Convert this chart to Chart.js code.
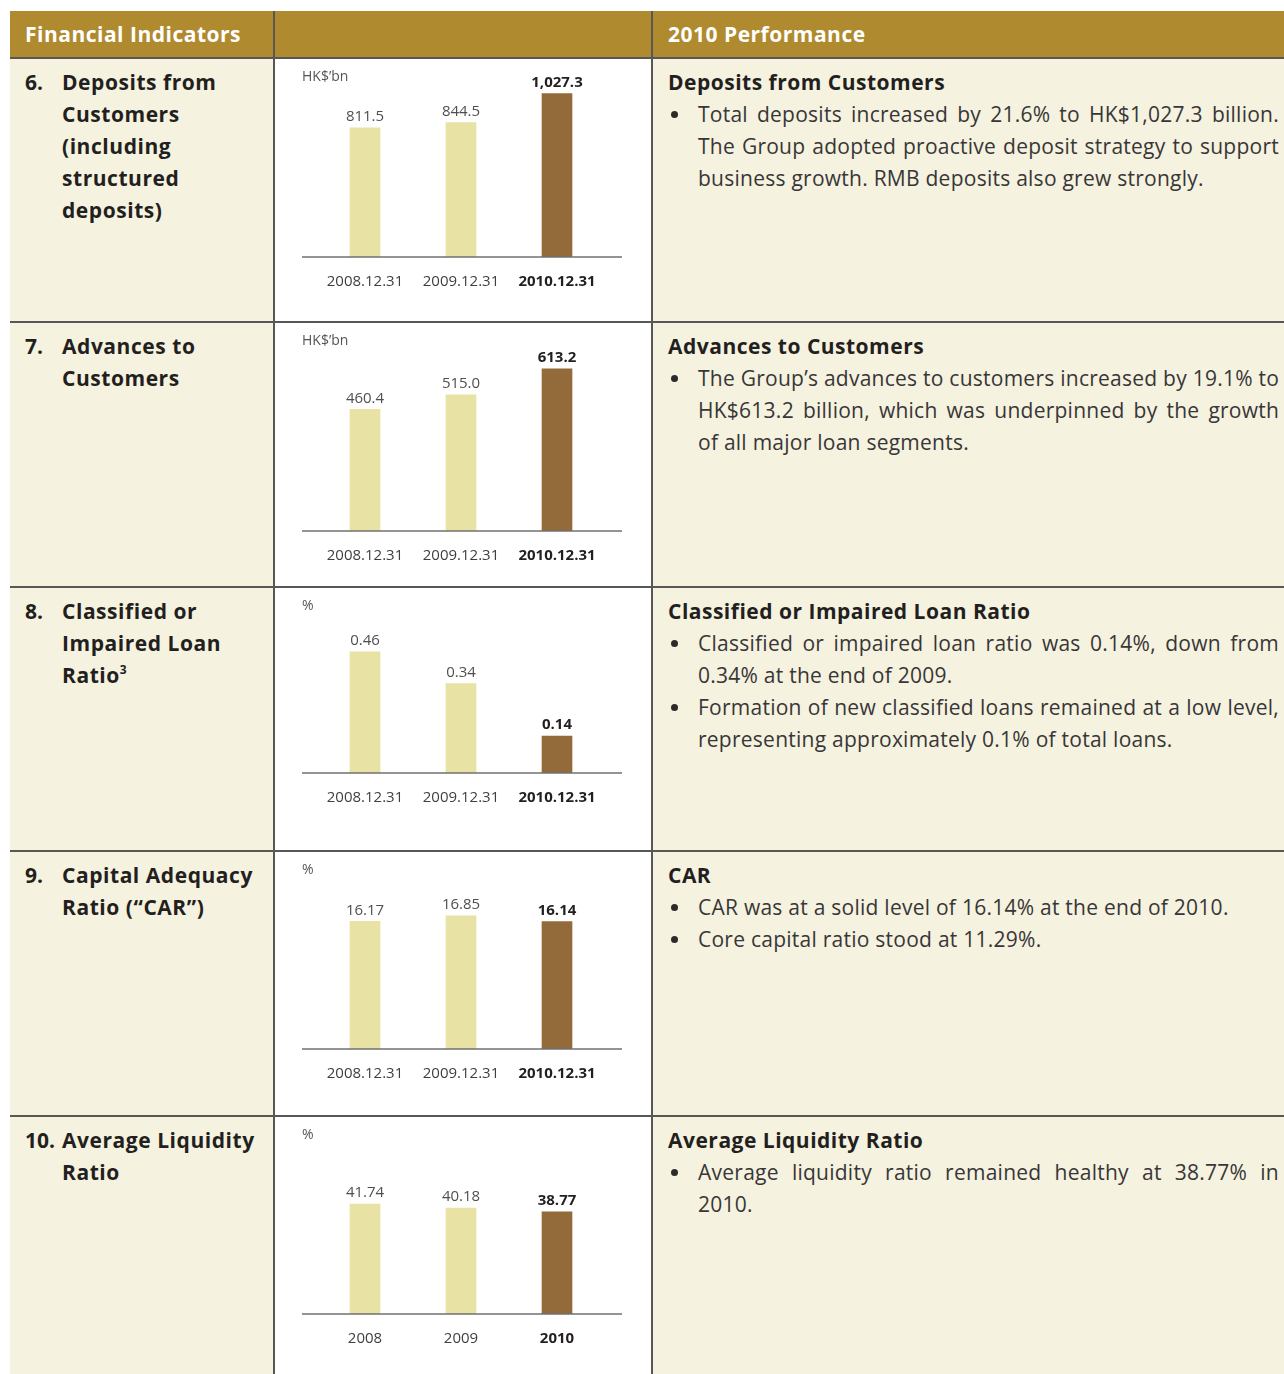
<!DOCTYPE html>
<html>
<head>
<meta charset="utf-8">
<title>Financial Indicators – 2010 Performance</title>
<script src="https://cdn.jsdelivr.net/npm/chart.js@4.4.1/dist/chart.umd.min.js"></script>
<style>
  html, body { margin: 0; padding: 0; background: #ffffff; }
  body { font-family: "Open Sans", "Noto Sans", sans-serif; color: #231f20; }
  .table {
    position: absolute; left: 10px; top: 11px; width: 1274px;
    display: grid;
    grid-template-columns: 263px 376px 631px;
    grid-template-rows: 46px 262px 263px 262px 263px 257px;
    column-gap: 2px; row-gap: 2px;
    background: #575757;
  }
  .head { background: #b08a2e; color: #ffffff; font-weight: 700; font-size: 21px;
          letter-spacing: 0.5px; line-height: 46px; padding-left: 15px; white-space: nowrap; }
  .ind { background: #f5f2df; padding: 7px 4px 0 15px; font-weight: 700; font-size: 21px;
         letter-spacing: 0.55px; line-height: 32px; display: flex; }
  .ind .num { flex: 0 0 37px; letter-spacing: 0; }
  .ind sup { font-size: 12px; line-height: 0; vertical-align: 9px; letter-spacing: 0; }
  .chart { background: #ffffff; position: relative; }
  .chart canvas { display: block; }
  .perf { background: #f5f2df; padding: 7px 5px 0 15px; }
  .perf h3 { margin: 0; font-size: 21px; line-height: 32px; font-weight: 700; letter-spacing: 0.5px; }
  .item { display: flex; font-size: 21px; line-height: 32px; color: #383637; letter-spacing: 0.25px; }
  .item .dot { flex: 0 0 30px; position: relative; }
  .item .dot::before { content: ""; position: absolute; left: 3px; top: 13px; width: 7px; height: 7px;
                       border-radius: 50%; background: #2b2b2b; }
  .item .txt { flex: 1 1 auto; }
  .item .ln { text-align: justify; text-align-last: justify; white-space: nowrap; }
  .item .ln.end { text-align-last: left; }
</style>
</head>
<body>
<div class="table">
  <div class="head">Financial Indicators</div>
  <div class="head"></div>
  <div class="head">2010 Performance</div>

  <div class="ind"><span class="num">6.</span><span>Deposits from Customers (including structured deposits)</span></div>
  <div class="chart"><canvas id="c0" width="376" height="262"></canvas></div>
  <div class="perf">
    <h3>Deposits from Customers</h3>
    <div class="item"><span class="dot"></span><div class="txt">
      <div class="ln">Total deposits increased by 21.6% to HK$1,027.3 billion.</div>
      <div class="ln">The Group adopted proactive deposit strategy to support</div>
      <div class="ln end">business growth. RMB deposits also grew strongly.</div>
    </div></div>
  </div>

  <div class="ind"><span class="num">7.</span><span>Advances to Customers</span></div>
  <div class="chart"><canvas id="c1" width="376" height="263"></canvas></div>
  <div class="perf">
    <h3>Advances to Customers</h3>
    <div class="item"><span class="dot"></span><div class="txt">
      <div class="ln">The Group’s advances to customers increased by 19.1% to</div>
      <div class="ln">HK$613.2 billion, which was underpinned by the growth</div>
      <div class="ln end">of all major loan segments.</div>
    </div></div>
  </div>

  <div class="ind"><span class="num">8.</span><span>Classified or Impaired Loan Ratio<sup>3</sup></span></div>
  <div class="chart"><canvas id="c2" width="376" height="262"></canvas></div>
  <div class="perf">
    <h3>Classified or Impaired Loan Ratio</h3>
    <div class="item"><span class="dot"></span><div class="txt">
      <div class="ln">Classified or impaired loan ratio was 0.14%, down from</div>
      <div class="ln end">0.34% at the end of 2009.</div>
    </div></div>
    <div class="item"><span class="dot"></span><div class="txt">
      <div class="ln">Formation of new classified loans remained at a low level,</div>
      <div class="ln end">representing approximately 0.1% of total loans.</div>
    </div></div>
  </div>

  <div class="ind"><span class="num">9.</span><span>Capital Adequacy Ratio (“CAR”)</span></div>
  <div class="chart"><canvas id="c3" width="376" height="263"></canvas></div>
  <div class="perf">
    <h3>CAR</h3>
    <div class="item"><span class="dot"></span><div class="txt">
      <div class="ln end">CAR was at a solid level of 16.14% at the end of 2010.</div>
    </div></div>
    <div class="item"><span class="dot"></span><div class="txt">
      <div class="ln end">Core capital ratio stood at 11.29%.</div>
    </div></div>
  </div>

  <div class="ind"><span class="num">10.</span><span>Average Liquidity Ratio</span></div>
  <div class="chart"><canvas id="c4" width="376" height="257"></canvas></div>
  <div class="perf">
    <h3>Average Liquidity Ratio</h3>
    <div class="item"><span class="dot"></span><div class="txt">
      <div class="ln">Average liquidity ratio remained healthy at 38.77% in</div>
      <div class="ln end">2010.</div>
    </div></div>
  </div>
</div>

<script>
// ---- data ----
const dateCategories = ['2008.12.31', '2009.12.31', '2010.12.31'];
const yearCategories = ['2008', '2009', '2010'];

const depositsFromCustomers = [811.5, 844.5, 1027.3];   // HK$'bn
const advancesToCustomers   = [460.4, 515.0, 613.2];    // HK$'bn
const impairedLoanRatio     = [0.46, 0.34, 0.14];       // %
const capitalAdequacyRatio  = [16.17, 16.85, 16.14];    // %
const averageLiquidityRatio = [41.74, 40.18, 38.77];    // %

const unitLabels   = ['HK$’bn', 'HK$’bn', '%', '%', '%'];
const valueDigits  = [1, 1, 2, 2, 2];
const axisMaximums = [1100, 700, 0.6, 20, 60];

// ---- panel layout ----
const panels = [
  { canvas: 'c0', labels: dateCategories, values: depositsFromCustomers, padTop: 23, padBottom: 14 },
  { canvas: 'c1', labels: dateCategories, values: advancesToCustomers,   padTop: 23, padBottom: 5 },
  { canvas: 'c2', labels: dateCategories, values: impairedLoanRatio,     padTop: 27, padBottom: 27 },
  { canvas: 'c3', labels: dateCategories, values: capitalAdequacyRatio,  padTop: 39, padBottom: 16 },
  { canvas: 'c4', labels: yearCategories, values: averageLiquidityRatio, padTop: 39, padBottom: 10 }
];

const FONT = '"Open Sans", "Noto Sans", sans-serif';
const PAST_COLOR = '#e8e2a5';
const CURRENT_COLOR = '#936a39';

// Baseline, unit caption and value labels drawn on top of each bar chart
const barDecor = {
  id: 'barDecor',
  afterDatasetsDraw(chart, args, opts) {
    const ctx = chart.ctx;
    const area = chart.chartArea;
    const yScale = chart.scales.y;
    const zeroY = yScale.getPixelForValue(0);
    const last = chart.data.labels.length - 1;

    ctx.save();
    // baseline
    ctx.strokeStyle = '#707070';
    ctx.lineWidth = 1.6;
    ctx.beginPath();
    ctx.moveTo(area.left - 15, zeroY);
    ctx.lineTo(area.right + 17, zeroY);
    ctx.stroke();

    // unit caption
    ctx.font = '14px ' + FONT;
    ctx.fillStyle = '#555555';
    ctx.textAlign = 'left';
    ctx.textBaseline = 'middle';
    ctx.fillText(opts.unit, area.left - 15, 18);

    // value labels
    const meta = chart.getDatasetMeta(0);
    const values = chart.data.datasets[0].data;
    ctx.textAlign = 'center';
    meta.data.forEach((bar, i) => {
      const text = values[i].toLocaleString('en-US', {
        minimumFractionDigits: opts.digits, maximumFractionDigits: opts.digits
      });
      ctx.font = (i === last ? 'bold ' : '') + '15px ' + FONT;
      ctx.fillStyle = i === last ? '#231f20' : '#4f4f4f';
      ctx.fillText(text, bar.x, bar.y - 11);
    });
    ctx.restore();
  }
};

function draw() {
  panels.forEach((p, k) => {
    const last = p.labels.length - 1;
    new Chart(document.getElementById(p.canvas), {
      type: 'bar',
      data: {
        labels: p.labels,
        datasets: [{
          data: p.values,
          backgroundColor: p.values.map((v, i) => i === last ? CURRENT_COLOR : PAST_COLOR),
          borderWidth: 0,
          barThickness: 30
        }]
      },
      options: {
        responsive: false,
        animation: false,
        events: [],
        layout: { padding: { left: 42, right: 46, top: p.padTop, bottom: p.padBottom } },
        plugins: {
          legend: { display: false },
          title: { display: false },
          tooltip: { enabled: false },
          barDecor: { unit: unitLabels[k], digits: valueDigits[k] }
        },
        scales: {
          x: {
            grid: { display: false, drawTicks: false },
            border: { display: false },
            ticks: {
              padding: 16,
              autoSkip: false,
              maxRotation: 0,
              color: (c) => c.index === last ? '#231f20' : '#3f3f3f',
              font: (c) => ({ family: FONT, size: 15, weight: c.index === last ? 'bold' : 'normal' })
            }
          },
          y: { display: false, min: 0, max: axisMaximums[k] }
        }
      },
      plugins: [barDecor]
    });
  });
}

if (document.fonts && document.fonts.ready) {
  document.fonts.load('14px "Open Sans"').then(draw, draw);
} else {
  draw();
}
</script>
</body>
</html>
